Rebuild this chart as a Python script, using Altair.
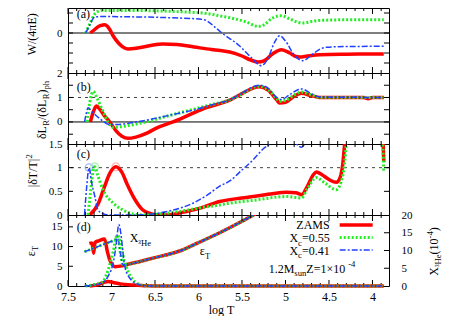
import altair as alt
import pandas as pd

FONT = "Liberation Serif"
RED, GREEN, BLUE = "#ff0000", "#22ee22", "#2040ff"
PW = 321
HA, HB, HC, HD = 65, 71, 71, 71

# ---------------- data ----------------
X_LABELS = [7.5, 7.0, 6.5, 6.0, 5.5, 5.0, 4.5, 4.0]
X_MAJOR = [4.0, 4.5, 5.0, 5.5, 6.0, 6.5, 7.0, 7.5]
X_MINOR = [3.9, 4.1, 4.2, 4.3, 4.4, 4.6, 4.7, 4.8, 4.9, 5.1, 5.2, 5.3, 5.4, 5.6, 5.7, 5.8, 5.9,
           6.1, 6.2, 6.3, 6.4, 6.6, 6.7, 6.8, 6.9, 7.1, 7.2, 7.3, 7.4]

# (a) W/(4piE)
A_RED_T = [7.243, 7.20, 7.15, 7.10, 7.078, 7.05, 7.02, 6.98, 6.92, 6.86, 6.81, 6.70, 6.55, 6.41, 6.25,
           6.05, 5.85, 5.75, 5.64, 5.50, 5.40, 5.316, 5.25, 5.15, 5.047, 4.95, 4.88, 4.837, 4.75, 4.607,
           4.30, 4.00, 3.87]
A_RED_W = [0.0, 0.03, 0.065, 0.08, 0.083, 0.07, 0.035, -0.03, -0.10, -0.145, -0.16, -0.15, -0.125, -0.11,
           -0.115, -0.14, -0.165, -0.175, -0.19, -0.23, -0.27, -0.29, -0.28, -0.21, -0.167, -0.2, -0.235,
           -0.24, -0.23, -0.217, -0.212, -0.21, -0.21]
A_GRN_T = [7.297, 7.25, 7.20, 7.155, 7.10, 6.80, 6.50, 6.20, 5.90, 5.75, 5.60, 5.45, 5.316, 5.25, 5.15,
           5.047, 4.95, 4.85, 4.80, 4.70, 4.607, 4.30, 3.87]
A_GRN_W = [0.0, 0.09, 0.18, 0.216, 0.226, 0.226, 0.222, 0.212, 0.195, 0.17, 0.145, 0.11, 0.066, 0.08,
           0.15, 0.173, 0.14, 0.105, 0.10, 0.115, 0.126, 0.132, 0.132]
A_BLU_T = [7.297, 7.25, 7.193, 7.10, 6.80, 6.40, 6.10, 5.99, 5.90, 5.80, 5.70, 5.60, 5.527, 5.40, 5.277,
           5.20, 5.13, 5.067, 5.00, 4.90, 4.80, 4.70, 4.60, 4.53, 4.30, 3.87]
A_BLU_W = [0.0, 0.08, 0.16, 0.165, 0.162, 0.155, 0.145, 0.14, 0.12, 0.05, -0.02, -0.08, -0.13, -0.24,
           -0.327, -0.25, -0.10, -0.027, -0.08, -0.22, -0.277, -0.22, -0.16, -0.143, -0.135, -0.133]

# (b) dL_R/(dL_R)_ph
B_RED_T = [7.243, 7.21, 7.174, 7.14, 7.08, 7.02, 6.95, 6.88, 6.81, 6.72, 6.60, 6.484, 6.293, 6.10, 5.90,
           5.756, 5.64, 5.53, 5.30, 5.20, 5.10, 5.067, 5.00, 4.90, 4.817, 4.70, 4.607, 4.10, 4.05, 4.00, 3.87]
B_RED_V = [0.0, 0.4, 0.65, 0.55, 0.25, 0.0, -0.35, -0.58, -0.67, -0.62, -0.47, -0.25, 0.0, 0.3, 0.6,
           0.75, 0.89, 1.1, 1.44, 1.3, 0.9, 0.77, 0.8, 1.05, 1.17, 1.07, 1.0, 1.0, 0.95, 1.0, 1.0]
B_GRN_T = [7.28, 7.25, 7.21, 7.17, 7.10, 7.04, 6.98, 6.90, 6.75, 6.55, 6.37, 6.15, 5.99, 5.80, 5.64, 5.53,
           5.30, 5.20, 5.10, 5.067, 5.00, 4.90, 4.817, 4.70, 4.607, 3.87]
B_GRN_V = [0.0, 0.8, 1.25, 1.0, 0.45, 0.0, -0.22, -0.2, -0.11, 0.05, 0.23, 0.43, 0.58, 0.75, 0.9, 1.1,
           1.46, 1.32, 0.95, 0.84, 0.88, 1.1, 1.22, 1.1, 1.0, 1.0]
B_BLU_T = [7.31, 7.29, 7.27, 7.22, 7.14, 7.02, 6.94, 6.75, 6.56, 6.30, 5.99, 5.80, 5.64, 5.53, 5.30, 5.20,
           5.10, 5.05, 4.95, 4.85, 4.817, 4.70, 4.607, 3.87]
B_BLU_V = [0.0, 0.35, 0.58, 0.4, 0.15, -0.1, -0.1, -0.02, 0.1, 0.3, 0.55, 0.75, 0.9, 1.12, 1.5, 1.38,
           1.0, 0.92, 1.12, 1.33, 1.35, 1.15, 1.02, 1.0]

# (c) |dT/T|^2
C_RED_T = [7.25, 7.15, 7.08, 7.02, 6.95, 6.88, 6.82, 6.75, 6.64, 6.55, 6.45, 6.35, 6.20, 5.99, 5.756,
           5.50, 5.37, 5.15, 4.99, 4.88, 4.817, 4.75, 4.68, 4.645, 4.58, 4.50, 4.415, 4.37, 4.34, 4.32,
           4.30, 4.00, 3.88, 3.87]
C_RED_V = [0.0, 0.25, 0.6, 0.88, 1.02, 0.9, 0.65, 0.39, 0.107, 0.03, 0.0, 0.0, 0.05, 0.14, 0.285, 0.36,
           0.39, 0.45, 0.48, 0.47, 0.43, 0.6, 0.85, 0.91, 0.85, 0.75, 0.69, 0.8, 1.1, 1.5, 2.0, 3.0, 1.6, 1.12]
C_GRN_T = [7.27, 7.24, 7.21, 7.193, 7.16, 7.098, 6.98, 6.87, 6.75, 6.60, 6.45, 6.20, 5.99, 5.756, 5.64,
           5.37, 4.99, 4.87, 4.817, 4.75, 4.645, 4.55, 4.415, 4.36, 4.32, 4.30, 4.27, 4.00, 3.88, 3.87]
C_GRN_V = [0.0, 0.5, 0.95, 1.02, 0.85, 0.535, 0.25, 0.107, 0.02, 0.0, 0.02, 0.08, 0.15, 0.21, 0.25,
           0.31, 0.39, 0.37, 0.36, 0.55, 0.79, 0.68, 0.535, 0.7, 1.1, 1.5, 2.0, 3.0, 1.4, 0.9]
C_BLU_T = [7.31, 7.285, 7.258, 7.23, 7.19, 7.155, 7.10, 7.02, 6.80, 6.60, 6.48, 6.30, 6.10, 5.90, 5.756,
           5.64, 5.50, 5.37, 5.26, 5.18, 5.10, 5.00, 4.90, 4.85, 4.82, 4.79, 4.75, 4.60, 4.30, 3.87]
C_BLU_V = [0.0, 0.6, 1.0, 0.7, 0.38, 0.107, 0.03, 0.0, 0.0, 0.01, 0.036, 0.1, 0.22, 0.42, 0.61, 0.72,
           0.95, 1.17, 1.39, 1.5, 1.65, 1.7, 1.55, 1.46, 1.43, 1.47, 1.6, 2.0, 3.0, 3.0]
PEAK_SERIES = ["blue", "green", "red"]
PEAK_T = [7.258, 7.193, 6.95]
PEAK_V = [1.0, 1.02, 1.02]

# (d) eps_T (left axis) and X_3He in 1e-4 (right axis)
EPS_COMMON_T = [6.81, 6.65, 6.50, 6.35, 6.20, 6.00, 5.756, 5.50, 5.37, 5.25]
EPS_COMMON_V = [5.5, 6.35, 7.2, 8.0, 9.0, 11.0, 13.5, 16.4, 18.0, 19.5]
EPS_BG_T = [7.31, 7.20, 7.10, 6.99, 6.925, 6.895, 6.87] + EPS_COMMON_T
EPS_BG_V = [8.7, 9.6, 10.5, 11.4, 11.9, 8.0, 5.4] + EPS_COMMON_V
EPS_RED_T = [7.255, 7.225, 7.205, 7.19, 7.14, 7.08, 7.05, 7.02, 6.96, 6.88] + EPS_COMMON_T
EPS_RED_V = [10.8, 10.9, 8.3, 11.0, 11.5, 11.9, 9.0, 6.6, 4.9, 5.1] + EPS_COMMON_V
HE_RED_T = [7.25, 7.15, 7.08, 7.04, 6.98, 6.90, 6.75, 6.60, 6.50, 3.87]
HE_RED_V = [0.0, 0.4, 1.1, 1.3, 1.0, 0.6, 0.25, 0.08, 0.0, 0.0]
HE_GRN_T = [7.30, 7.20, 7.10, 7.06, 6.98, 6.935, 6.90, 6.87, 6.81, 6.73, 6.62, 6.50, 3.87]
HE_GRN_V = [0.0, 0.4, 1.2, 3.1, 9.7, 14.3, 12.5, 8.8, 4.1, 1.2, 0.1, 0.0, 0.0]
HE_BLU_T = [7.31, 7.20, 7.10, 7.04, 6.97, 6.945, 6.93, 6.917, 6.90, 6.886, 6.85, 6.79, 6.695, 6.60, 6.50, 3.87]
HE_BLU_V = [0.0, 0.3, 1.0, 2.7, 7.8, 12.0, 15.4, 17.3, 16.0, 13.5, 5.9, 2.2, 0.5, 0.05, 0.0, 0.0]

LEGEND_SERIES = ["red", "green", "blue"]

# ---------------- helpers ----------------
XS = alt.Scale(domain=[3.81, 7.5], reverse=True, nice=False, zero=False)
STY = {
    "red": dict(color=RED, strokeWidth=3.5),
    "green": dict(color=GREEN, strokeWidth=3, strokeDash=[2, 2]),
    "blue": dict(color=BLUE, strokeWidth=1.5, strokeDash=[6, 2, 2, 2]),
}
ONE = pd.DataFrame({"a": [0]})

TW = {' ': .25, '(': .333, ')': .333, '/': .278, '.': .25, '-': .333, '=': .564, '×': .564, '|': .2,
      'A': .722, 'E': .611, 'L': .611, 'M': .889, 'R': .667, 'S': .556, 'T': .611, 'W': .944, 'X': .722,
      'Z': .611, 'H': .722, 'a': .444, 'b': .5, 'c': .444, 'd': .5, 'e': .444, 'g': .5, 'h': .5, 'l': .278,
      'n': .5, 'o': .5, 'p': .5, 's': .389, 'u': .5, 'δ': .5, 'ε': .44, 'π': .55, '²': .3, '³': .3}


def tw(s, fs):
    return sum(TW.get(c, .5) for c in s) * fs


def rich(pieces, x, y, fs=12, angle=0, align="left"):
    parts = []
    for txt, mode in pieces:
        if mode == "n":
            size, shift = fs, 0.0
        elif mode == "b":
            size, shift = fs * 0.72, fs * 0.3
        else:
            size, shift = fs * 0.72, -fs * 0.42
        parts.append((txt, size, shift, tw(txt, size)))
    total = sum(p[3] for p in parts)
    cum = {"left": 0.0, "center": -total / 2, "right": -total}[align]
    out = []
    for txt, size, shift, w in parts:
        if angle == 0:
            px, py = x + cum, y + shift
        else:
            px, py = x + shift, y - cum
        out.append(alt.Chart(ONE).mark_text(text=txt, font=FONT, fontSize=size, angle=angle, align="left",
                                            baseline="alphabetic", color="black")
                   .encode(x=alt.value(px), y=alt.value(py)))
        cum += w
    return out


NOAX = alt.Axis(labels=False, title=None, ticks=False, domain=False, grid=False)


def line(T, V, sty, ys, yax, xax, clip=False):
    df = pd.DataFrame({"x": T, "y": V})
    return alt.Chart(df).mark_line(interpolate="monotone", clip=clip, **STY[sty]).encode(
        x=alt.X("x:Q", scale=XS, axis=xax),
        y=alt.Y("y:Q", scale=ys, axis=yax),
        order=alt.Order("x:Q", sort="descending"),
    )


def xticks(H, xax):
    out = []
    for vals, L in ((X_MAJOR, 6), (X_MINOR, 3)):
        df = pd.DataFrame({"x": vals})
        base = alt.Chart(df).mark_rule(color="black", strokeWidth=1)
        out.append(base.encode(x=alt.X("x:Q", scale=XS, axis=xax), y=alt.value(0), y2=alt.value(L)))
        out.append(base.encode(x=alt.X("x:Q", scale=XS, axis=xax), y=alt.value(H), y2=alt.value(H - L)))
    return out


def yticks(vals, ys, yax, side="both"):
    df = pd.DataFrame({"y": vals})
    base = alt.Chart(df).mark_rule(color="black", strokeWidth=1)
    out = []
    if side in ("both", "left"):
        out.append(base.encode(y=alt.Y("y:Q", scale=ys, axis=yax), x=alt.value(0), x2=alt.value(5)))
    if side in ("both", "right"):
        out.append(base.encode(y=alt.Y("y:Q", scale=ys, axis=yax), x=alt.value(PW), x2=alt.value(PW - 5)))
    return out


def hrule(v, ys, yax, dashed=False):
    kw = dict(strokeDash=[3, 4], color="#444444") if dashed else dict(color="black")
    df = pd.DataFrame({"y": [v]})
    return alt.Chart(df).mark_rule(strokeWidth=1, **kw).encode(y=alt.Y("y:Q", scale=ys, axis=yax))


def left_axis(vals):
    return alt.Axis(values=vals, title=None, labelPadding=6, format="~g", orient="left",
                    ticks=False, domain=False, grid=False, labelFontSize=11)


# ---------------- panel (a) ----------------
ysA = alt.Scale(domain=[-0.4, 0.25], nice=False, zero=False)
axA = left_axis([0])
pa = alt.layer(
    hrule(0, ysA, axA),
    line(A_RED_T, A_RED_W, "red", ysA, axA, NOAX),
    line(A_GRN_T, A_GRN_W, "green", ysA, axA, NOAX),
    line(A_BLU_T, A_BLU_W, "blue", ysA, axA, NOAX),
    *xticks(HA, NOAX),
    *yticks([-0.3, -0.2, -0.1, 0.0, 0.1, 0.2], ysA, axA),
    *rich([("W/(4πE)", "n")], -32.5, 26, angle=270, align="center"),
    *rich([("(a)", "n")], 8.7, 10),
).properties(width=PW, height=HA)

# ---------------- panel (b) ----------------
ysB = alt.Scale(domain=[-0.9, 2.0], nice=False, zero=False)
axB = left_axis([0, 1, 2])
pb = alt.layer(
    hrule(0, ysB, axB),
    hrule(1, ysB, axB, dashed=True),
    line(B_RED_T, B_RED_V, "red", ysB, axB, NOAX),
    line(B_GRN_T, B_GRN_V, "green", ysB, axB, NOAX),
    line(B_BLU_T, B_BLU_V, "blue", ysB, axB, NOAX),
    *xticks(HB, NOAX),
    *yticks([-0.5, 0.0, 0.5, 1.0, 1.5], ysB, axB),
    *rich([("δL", "n"), ("R", "b"), ("/(δL", "n"), ("R", "b"), (")", "n"), ("ph", "b")],
          -22.3, 37, angle=270, align="center"),
    *rich([("(b)", "n")], 8.7, 18),
).properties(width=PW, height=HB)

# ---------------- panel (c) ----------------
ysC = alt.Scale(domain=[0.0, 1.5], nice=False, zero=False)
axC = left_axis([0, 0.5, 1, 1.5])
peaks = pd.DataFrame({"x": PEAK_T, "y": PEAK_V, "s": PEAK_SERIES})
pc = alt.layer(
    hrule(1, ysC, axC, dashed=True),
    alt.Chart(peaks).mark_point(shape="circle", filled=False, size=60, strokeWidth=1.2).encode(
        x=alt.X("x:Q", scale=XS, axis=NOAX), y=alt.Y("y:Q", scale=ysC, axis=axC),
        color=alt.Color("s:N", scale=alt.Scale(domain=["blue", "green", "red"],
                                               range=["#8899ff", "#88ee88", "#ff9999"]), legend=None)),
    line(C_RED_T, C_RED_V, "red", ysC, axC, NOAX, clip=True),
    line(C_GRN_T, C_GRN_V, "green", ysC, axC, NOAX, clip=True),
    line(C_BLU_T, C_BLU_V, "blue", ysC, axC, NOAX, clip=True),
    *xticks(HC, NOAX),
    *yticks([0.5, 1.0], ysC, axC),
    *rich([("|δT/T|", "n"), ("2", "p")], -30.9, 26.7, angle=270, align="center"),
    *rich([("(c)", "n")], 8.7, 13.7),
).properties(width=PW, height=HC)

# ---------------- panel (d) ----------------
ysD = alt.Scale(domain=[0, 18], nice=False, zero=False)
ysH = alt.Scale(domain=[0, 20], nice=False, zero=False)
axD = left_axis([0, 5, 10, 15])
axH = alt.Axis(values=[0, 5, 10, 15, 20], title=None, labelPadding=12, orient="right",
               ticks=False, domain=False, grid=False, labelFontSize=11)
axX = alt.Axis(values=X_LABELS, format="~g", title="log T", labelFlush=False, labelPadding=5,
               titlePadding=2, titleX=153, titleFontWeight="normal", orient="bottom",
               ticks=False, domain=False, grid=False)

legend_layers = []
for i, s in enumerate(LEGEND_SERIES):
    yy = 10 + 12.5 * i
    legend_layers.append(alt.Chart(ONE).mark_rule(**STY[s]).encode(
        x=alt.value(271.7), x2=alt.value(304.7), y=alt.value(yy)))

left_group = alt.layer(
    line(EPS_RED_T, EPS_RED_V, "red", ysD, axD, axX, clip=True),
    line(EPS_BG_T, EPS_BG_V, "green", ysD, axD, axX, clip=True),
    line(EPS_BG_T, EPS_BG_V, "blue", ysD, axD, axX, clip=True),
    *xticks(HD, axX),
    *yticks([5, 10, 15], ysD, axD, side="left"),
    *rich([("ε", "n"), ("T", "b")], -33.3, 36, angle=270, align="center"),
    *rich([("(d)", "n")], 8.7, 16),
    *rich([("X", "n"), ("³He", "b")], 61.7, 27),
    *rich([("ε", "n"), ("T", "b")], 131.7, 40),
    *rich([("ZAMS", "n")], 261.7, 14, align="right"),
    *rich([("X", "n"), ("c", "b"), ("=0.55", "n")], 261.7, 27, align="right"),
    *rich([("X", "n"), ("c", "b"), ("=0.41", "n")], 261.7, 39.5, align="right"),
    *rich([("1.2M", "n"), ("sun", "b"), (" Z=1×10", "n"), ("-4", "p")], 200.7, 57.5),
    *legend_layers,
    *rich([("X", "n"), ("³He", "b"), ("(10", "n"), ("-4", "p"), (")", "n")], 369.7, 36.5,
          angle=270, align="center"),
)
right_group = alt.layer(
    line(HE_RED_T, HE_RED_V, "red", ysH, axH, axX),
    line(HE_GRN_T, HE_GRN_V, "green", ysH, axH, axX),
    line(HE_BLU_T, HE_BLU_V, "blue", ysH, axH, axX),
    *yticks([5, 10, 15], ysH, axH, side="right"),
)
pd_ = alt.layer(left_group, right_group).resolve_scale(y="independent").properties(width=PW, height=HD)

chart = alt.vconcat(pa, pb, pc, pd_, spacing=0, bounds="flush").properties(
    padding={"left": 16, "top": -5, "right": 0, "bottom": 0}
).configure_view(stroke="black", strokeWidth=1).configure_axis(
    labelFont=FONT, titleFont=FONT, labelFontSize=12, titleFontSize=12, labelColor="black",
    titleColor="black"
).configure_text(font=FONT)

chart.save("out.html", embed_options={"renderer": "svg", "actions": False})
